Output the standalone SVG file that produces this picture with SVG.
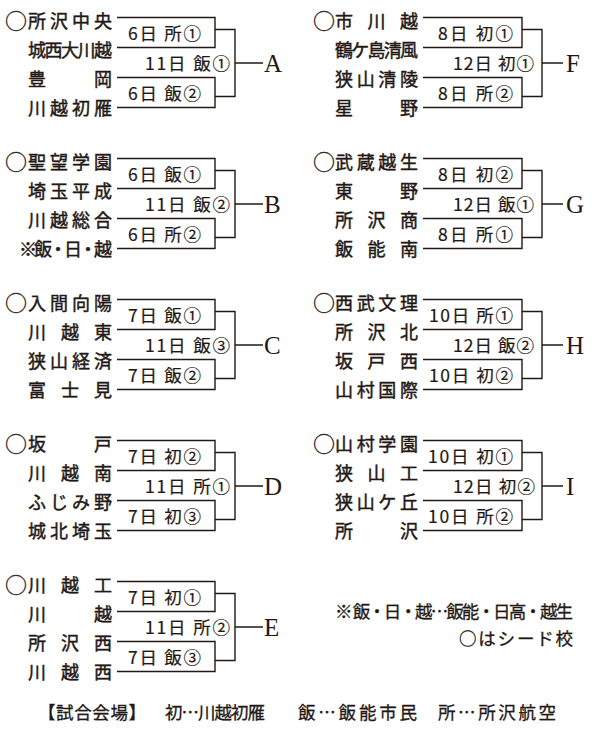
<svg xmlns="http://www.w3.org/2000/svg" xmlns:xlink="http://www.w3.org/1999/xlink" width="600" height="729" viewBox="0 0 600 729">
<style>
text{font-family:"Noto Sans CJK JP","Noto Sans CJK SC",sans-serif;fill:#231815}
.nm{font-size:18px;stroke:#231815;stroke-width:0.45}
.sd{font-size:22px;stroke-width:0.3}
.dt{font-size:17.5px;stroke:#231815;stroke-width:0.2}
.lb{font-family:"Liberation Serif","Times New Roman",serif;font-size:25px}
.nt{font-size:17.5px;stroke:#231815;stroke-width:0.3}
.ln{fill:none;stroke:#231815;stroke-width:1.4}
</style>
<defs>
<path id="brL" d="M0,0 H98 V30 H0 M0,60 H98 V90 H0 M98,12 H118 V79 H98 M118,45.5 H146"/>
<path id="brR" d="M0,0 H99 V30 H0 M0,60 H99 V90 H0 M99,12 H119 V79 H99 M119,45.5 H140"/>
</defs>
<rect width="600" height="729" fill="#fff"/>
<g id="connectors" class="ln">
<use xlink:href="#brL" href="#brL" x="117" y="17.5"/>
<use xlink:href="#brL" href="#brL" x="117" y="158.5"/>
<use xlink:href="#brL" href="#brL" x="117" y="299.5"/>
<use xlink:href="#brL" href="#brL" x="117" y="440.5"/>
<use xlink:href="#brL" href="#brL" x="117" y="581.5"/>
<use xlink:href="#brR" href="#brR" x="423" y="17.5"/>
<use xlink:href="#brR" href="#brR" x="423" y="158.5"/>
<use xlink:href="#brR" href="#brR" x="423" y="299.5"/>
<use xlink:href="#brR" href="#brR" x="423" y="440.5"/>
</g>
<g id="blockA">
<text class="nm" y="27.5"><tspan class="sd" x="5" dy="1.5">○</tspan><tspan x="28" dy="-1.5" textLength="84" lengthAdjust="spacing">所沢中央</tspan></text>
<text class="nm" x="28" y="56.5" textLength="84" lengthAdjust="spacing">城西大川越</text>
<text class="nm" x="28" y="85.5" textLength="84" lengthAdjust="spacing">豊　　岡</text>
<text class="nm" x="28" y="115" textLength="84" lengthAdjust="spacing">川越初雁</text>
<text class="dt" x="128" y="39.5" textLength="73" lengthAdjust="spacing">6日 所①</text>
<text class="dt" x="145" y="70" textLength="85" lengthAdjust="spacing">11日 飯①</text>
<text class="dt" x="128" y="99.5" textLength="73" lengthAdjust="spacing">6日 飯②</text>
<text class="lb" x="264" y="71.5">A</text>
</g>
<g id="blockB">
<text class="nm" y="168.5"><tspan class="sd" x="5" dy="1.5">○</tspan><tspan x="28" dy="-1.5" textLength="84" lengthAdjust="spacing">聖望学園</tspan></text>
<text class="nm" x="28" y="197.5" textLength="84" lengthAdjust="spacing">埼玉平成</text>
<text class="nm" x="28" y="226.5" textLength="84" lengthAdjust="spacing">川越総合</text>
<text class="nm" x="19" y="256" textLength="93" lengthAdjust="spacing">※飯・日・越</text>
<text class="dt" x="128" y="180.5" textLength="73" lengthAdjust="spacing">6日 飯①</text>
<text class="dt" x="145" y="211" textLength="85" lengthAdjust="spacing">11日 飯②</text>
<text class="dt" x="128" y="240.5" textLength="73" lengthAdjust="spacing">6日 所②</text>
<text class="lb" x="264" y="212.5">B</text>
</g>
<g id="blockC">
<text class="nm" y="309.5"><tspan class="sd" x="5" dy="1.5">○</tspan><tspan x="28" dy="-1.5" textLength="84" lengthAdjust="spacing">入間向陽</tspan></text>
<text class="nm" x="28" y="338.5" textLength="84" lengthAdjust="spacing">川　越　東</text>
<text class="nm" x="28" y="367.5" textLength="84" lengthAdjust="spacing">狭山経済</text>
<text class="nm" x="28" y="397" textLength="84" lengthAdjust="spacing">富　士　見</text>
<text class="dt" x="128" y="321.5" textLength="73" lengthAdjust="spacing">7日 飯①</text>
<text class="dt" x="145" y="352" textLength="85" lengthAdjust="spacing">11日 飯③</text>
<text class="dt" x="128" y="381.5" textLength="73" lengthAdjust="spacing">7日 飯②</text>
<text class="lb" x="264" y="353.5">C</text>
</g>
<g id="blockD">
<text class="nm" y="450.5"><tspan class="sd" x="5" dy="1.5">○</tspan><tspan x="28" dy="-1.5" textLength="84" lengthAdjust="spacing">坂　　戸</tspan></text>
<text class="nm" x="28" y="479.5" textLength="84" lengthAdjust="spacing">川　越　南</text>
<text class="nm" x="28" y="508.5" textLength="84" lengthAdjust="spacing">ふじみ野</text>
<text class="nm" x="28" y="538" textLength="84" lengthAdjust="spacing">城北埼玉</text>
<text class="dt" x="128" y="462.5" textLength="73" lengthAdjust="spacing">7日 初②</text>
<text class="dt" x="145" y="493" textLength="85" lengthAdjust="spacing">11日 所①</text>
<text class="dt" x="128" y="522.5" textLength="73" lengthAdjust="spacing">7日 初③</text>
<text class="lb" x="264" y="494.5">D</text>
</g>
<g id="blockE">
<text class="nm" y="591.5"><tspan class="sd" x="5" dy="1.5">○</tspan><tspan x="28" dy="-1.5" textLength="84" lengthAdjust="spacing">川　越　工</tspan></text>
<text class="nm" x="28" y="620.5" textLength="84" lengthAdjust="spacing">川　　越</text>
<text class="nm" x="28" y="649.5" textLength="84" lengthAdjust="spacing">所　沢　西</text>
<text class="nm" x="28" y="679" textLength="84" lengthAdjust="spacing">川　越　西</text>
<text class="dt" x="128" y="603.5" textLength="73" lengthAdjust="spacing">7日 初①</text>
<text class="dt" x="145" y="634" textLength="85" lengthAdjust="spacing">11日 所②</text>
<text class="dt" x="128" y="663.5" textLength="73" lengthAdjust="spacing">7日 飯③</text>
<text class="lb" x="264" y="635.5">E</text>
</g>
<g id="blockF">
<text class="nm" y="27.5"><tspan class="sd" x="313" dy="1.5">○</tspan><tspan x="335" dy="-1.5" textLength="83" lengthAdjust="spacing">市　川　越</tspan></text>
<text class="nm" x="335" y="56.5" textLength="83" lengthAdjust="spacing">鶴ケ島清風</text>
<text class="nm" x="335" y="85.5" textLength="83" lengthAdjust="spacing">狭山清陵</text>
<text class="nm" x="335" y="115" textLength="83" lengthAdjust="spacing">星　　野</text>
<text class="dt" x="438" y="39.5" textLength="75" lengthAdjust="spacing">8日 初①</text>
<text class="dt" x="453" y="70" textLength="81" lengthAdjust="spacing">12日 初①</text>
<text class="dt" x="438" y="99.5" textLength="75" lengthAdjust="spacing">8日 所②</text>
<text class="lb" x="566" y="71.5">F</text>
</g>
<g id="blockG">
<text class="nm" y="168.5"><tspan class="sd" x="313" dy="1.5">○</tspan><tspan x="335" dy="-1.5" textLength="83" lengthAdjust="spacing">武蔵越生</tspan></text>
<text class="nm" x="335" y="197.5" textLength="83" lengthAdjust="spacing">東　　野</text>
<text class="nm" x="335" y="226.5" textLength="83" lengthAdjust="spacing">所　沢　商</text>
<text class="nm" x="335" y="256" textLength="83" lengthAdjust="spacing">飯　能　南</text>
<text class="dt" x="438" y="180.5" textLength="75" lengthAdjust="spacing">8日 初②</text>
<text class="dt" x="453" y="211" textLength="81" lengthAdjust="spacing">12日 飯①</text>
<text class="dt" x="438" y="240.5" textLength="75" lengthAdjust="spacing">8日 所①</text>
<text class="lb" x="566" y="212.5">G</text>
</g>
<g id="blockH">
<text class="nm" y="309.5"><tspan class="sd" x="313" dy="1.5">○</tspan><tspan x="335" dy="-1.5" textLength="83" lengthAdjust="spacing">西武文理</tspan></text>
<text class="nm" x="335" y="338.5" textLength="83" lengthAdjust="spacing">所　沢　北</text>
<text class="nm" x="335" y="367.5" textLength="83" lengthAdjust="spacing">坂　戸　西</text>
<text class="nm" x="335" y="397" textLength="83" lengthAdjust="spacing">山村国際</text>
<text class="dt" x="429" y="321.5" textLength="84" lengthAdjust="spacing">10日 所①</text>
<text class="dt" x="453" y="352" textLength="81" lengthAdjust="spacing">12日 飯②</text>
<text class="dt" x="429" y="381.5" textLength="84" lengthAdjust="spacing">10日 初②</text>
<text class="lb" x="566" y="353.5">H</text>
</g>
<g id="blockI">
<text class="nm" y="450.5"><tspan class="sd" x="313" dy="1.5">○</tspan><tspan x="335" dy="-1.5" textLength="83" lengthAdjust="spacing">山村学園</tspan></text>
<text class="nm" x="335" y="479.5" textLength="83" lengthAdjust="spacing">狭　山　工</text>
<text class="nm" x="335" y="508.5" textLength="83" lengthAdjust="spacing">狭山ケ丘</text>
<text class="nm" x="335" y="538" textLength="83" lengthAdjust="spacing">所　　沢</text>
<text class="dt" x="428" y="462.5" textLength="85" lengthAdjust="spacing">10日 初①</text>
<text class="dt" x="453" y="493" textLength="82" lengthAdjust="spacing">12日 初②</text>
<text class="dt" x="428" y="522.5" textLength="85" lengthAdjust="spacing">10日 所②</text>
<text class="lb" x="566" y="494.5">I</text>
</g>
<g id="notes">
<text class="nt" x="335" y="617.5" textLength="238" lengthAdjust="spacing">※ 飯・日・越…飯能・日高・越生</text>
<text class="nt" x="459" y="645" textLength="114" lengthAdjust="spacing">○はシード校</text>
<text class="nt" y="719"><tspan x="38" textLength="108" lengthAdjust="spacing">【試合会場】</tspan><tspan x="165" textLength="100" lengthAdjust="spacing">初…川越初雁</tspan><tspan x="298" textLength="119" lengthAdjust="spacing">飯…飯能市民</tspan><tspan x="438" textLength="118" lengthAdjust="spacing">所…所沢航空</tspan></text>
</g>
</svg>
